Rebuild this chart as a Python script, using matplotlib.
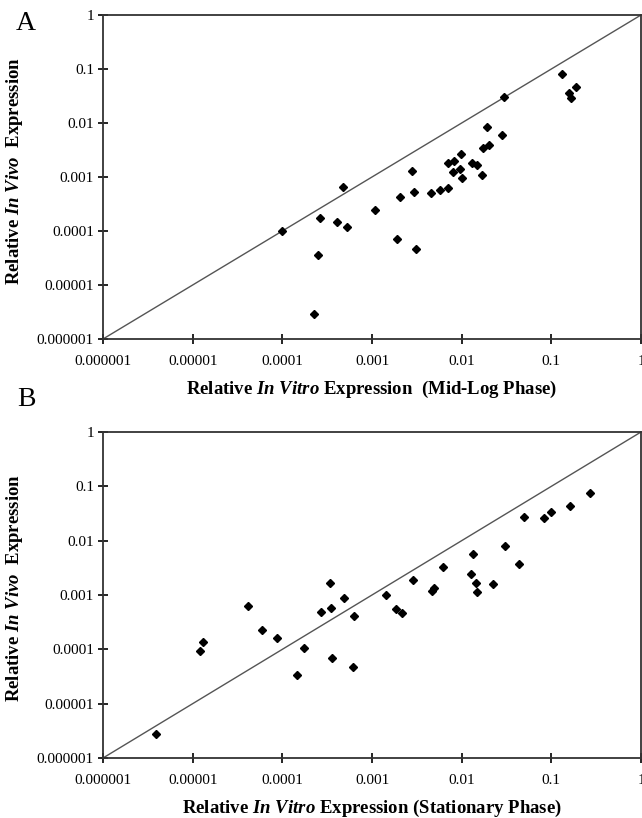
import matplotlib
matplotlib.use('Agg')
import matplotlib.pyplot as plt

plt.rcParams['font.family'] = ['Liberation Serif', 'DejaVu Serif']
plt.rcParams['mathtext.fontset'] = 'custom'
plt.rcParams['mathtext.rm'] = 'Liberation Serif:bold'
plt.rcParams['mathtext.it'] = 'Liberation Serif:italic:bold'

# panel A : mid-log phase
a_vitro = [4.70e-4, 1.0e-4, 2.62e-4, 4.03e-4, 5.30e-4, 2.51e-4, 2.25e-4,
           1.08e-3, 2.05e-3, 2.81e-3, 2.93e-3, 4.54e-3, 5.71e-3, 6.97e-3,
           7.08e-3, 8.24e-3, 9.79e-3, 8.05e-3, 9.55e-3, 1.01e-2, 1.31e-2,
           1.49e-2, 1.67e-2, 1.71e-2, 2.03e-2, 1.90e-2, 2.79e-2, 2.95e-2,
           0.130, 0.1875, 0.157, 0.165, 1.9e-3, 3.1e-3]
a_vivo = [6.61e-4, 1.0e-4, 1.77e-4, 1.45e-4, 1.17e-4, 3.60e-5, 2.90e-6,
          2.45e-4, 4.33e-4, 1.29e-3, 5.20e-4, 4.99e-4, 5.74e-4, 6.34e-4,
          1.79e-3, 2.00e-3, 2.63e-3, 1.22e-3, 1.41e-3, 9.44e-4, 1.79e-3,
          1.67e-3, 1.09e-3, 3.49e-3, 3.92e-3, 8.55e-3, 6.00e-3, 2.99e-2,
          7.96e-2, 4.71e-2, 3.65e-2, 2.86e-2, 7.0e-5, 4.7e-5]

# panel B : stationary phase
b_vitro = [1.21e-5, 1.31e-5, 4.17e-5, 5.97e-5, 8.77e-5, 1.44e-4, 1.75e-4,
           2.67e-4, 3.40e-4, 3.45e-4, 4.90e-4, 6.28e-4, 3.60e-4, 6.08e-4,
           3.90e-6, 1.43e-3, 1.85e-3, 2.17e-3, 2.88e-3, 4.61e-3, 4.89e-3,
           6.22e-3, 1.26e-2, 1.34e-2, 1.43e-2, 1.50e-2, 2.21e-2, 3.03e-2,
           4.38e-2, 4.93e-2, 8.24e-2, 9.86e-2, 0.161, 0.269]
b_vivo = [9.27e-5, 1.34e-4, 6.25e-4, 2.26e-4, 1.63e-4, 3.44e-5, 1.08e-4,
          4.91e-4, 1.63e-3, 5.82e-4, 8.89e-4, 4.08e-4, 6.79e-5, 4.76e-5,
          2.82e-6, 9.95e-4, 5.42e-4, 4.71e-4, 1.88e-3, 1.20e-3, 1.32e-3,
          3.22e-3, 2.43e-3, 5.58e-3, 1.68e-3, 1.15e-3, 1.59e-3, 7.96e-3,
          3.71e-3, 2.76e-2, 2.64e-2, 3.41e-2, 4.34e-2, 7.43e-2]

ticks = [1e-6, 1e-5, 1e-4, 1e-3, 1e-2, 1e-1, 1]
tick_labels = ['0.000001', '0.00001', '0.0001', '0.001', '0.01', '0.1', '1']

fig = plt.figure(figsize=(6.42, 8.18), dpi=100)
ax_a = fig.add_axes([103/642, 1-339/818, 538/642, 324/818])
ax_b = fig.add_axes([103/642, 1-758/818, 538/642, 326/818])

panels = [(ax_a, a_vitro, a_vivo, 'A', r'Relative $In\ Vitro$ Expression  (Mid-Log Phase)'),
          (ax_b, b_vitro, b_vivo, 'B', r'Relative $In\ Vitro$ Expression (Stationary Phase)')]

for ax, xs, ys, letter, xlab in panels:
    ax.plot([1e-6, 1], [1e-6, 1], color='#555555', lw=1.0, zorder=1)
    ax.plot(xs, ys, 'D', color='black', ms=3.9, mec='black', zorder=3)
    ax.set_xscale('log')
    ax.set_yscale('log')
    ax.set_xlim(1e-6, 1)
    ax.set_ylim(1e-6, 1)
    ax.set_xticks(ticks)
    ax.set_xticklabels(tick_labels)
    ax.set_yticks(ticks)
    ax.set_yticklabels(tick_labels)
    ax.minorticks_off()
    ax.tick_params(direction='inout', length=7, width=1.2, labelsize=11)
    ax.tick_params(axis='x', pad=8)
    ax.tick_params(axis='y', pad=3)
    for sp in ax.spines.values():
        sp.set_linewidth(1.3)
        sp.set_color('#333333')
    ax.set_xlabel(xlab, fontsize=13.5, fontweight='bold')
    ax.xaxis.set_label_coords(0.5, -0.122)
    ax.set_ylabel(r'Relative $In\ Vivo$  Expression', fontsize=13.5, fontweight='bold')
    ax.yaxis.set_label_coords(-0.145, 0.52)

fig.text(26/642, 1-24/818, 'A', fontsize=20, ha='center', va='center')
fig.text(26/642, 1-400/818, 'B', fontsize=20, ha='center', va='center')

fig.savefig('out.png', dpi=100)
